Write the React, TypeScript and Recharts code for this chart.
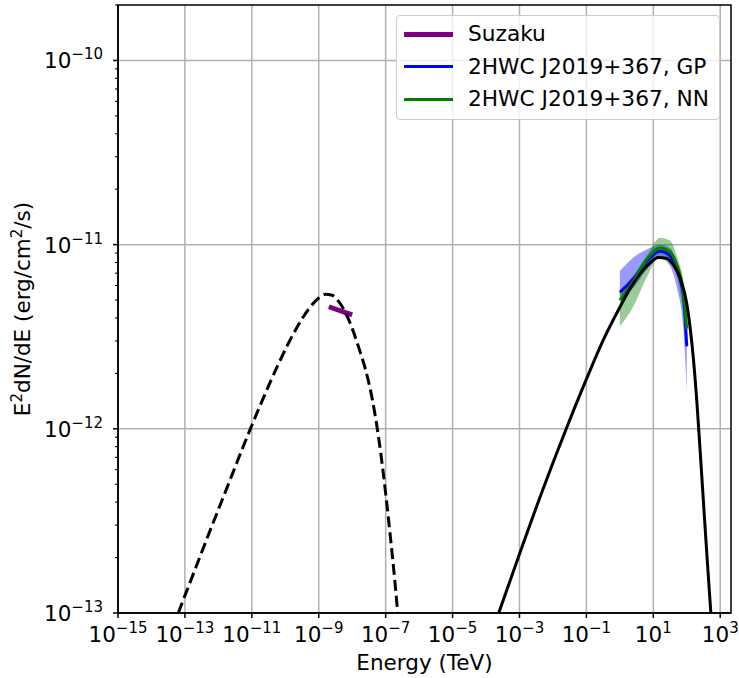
import React from 'react';
import {
  ComposedChart,
  Line,
  Area,
  XAxis,
  YAxis,
  CartesianGrid,
  ReferenceArea,
  Label
} from 'recharts';

const FONT = '"DejaVu Sans", "Liberation Sans", sans-serif';
const FS = 21.5; // main font size
const FS_SUP = 15; // exponent font size

// axis ranges (TeV, erg/cm^2/s)
const X_MIN = 1e-15;
const X_MAX = 2.1e3;
const Y_MIN = 1e-13;
const Y_MAX = 2.0e-10;

const xTicks = [1e-15, 1e-13, 1e-11, 1e-9, 1e-7, 1e-5, 1e-3, 1e-1, 1e1, 1e3];
const yMajor = [1e-13, 1e-12, 1e-11, 1e-10];
const yMantissa = [1, 2, 3, 4, 5, 6, 7, 8, 9];

// synchrotron model (dashed)
const syncEnergy = [6.31e-14, 2.0e-13, 6.31e-13, 2.0e-12, 6.31e-12, 2.0e-11, 6.31e-11, 2.0e-10, 5.01e-10, 1e-9, 1.58e-9, 2.51e-9, 3.98e-9, 6.31e-9, 1e-8, 1.58e-8, 2.51e-8, 3.98e-8, 6.31e-8, 1e-7, 1.41e-7, 1.91e-7, 2.29e-7];
const syncFlux = [1.0e-13, 1.72e-13, 2.95e-13, 5.01e-13, 8.51e-13, 1.41e-12, 2.26e-12, 3.43e-12, 4.47e-12, 5.13e-12, 5.37e-12, 5.31e-12, 4.9e-12, 4.27e-12, 3.51e-12, 2.75e-12, 2.09e-12, 1.45e-12, 8.7e-13, 4.47e-13, 2.51e-13, 1.45e-13, 1.0e-13];

// inverse Compton model (solid black)
const icEnergy = [2.4e-4, 1e-3, 5e-3, 2.5e-2, 0.1, 0.316, 1.0, 2.0, 4.0, 7.9, 14.1, 25, 40, 63, 100, 126, 158, 200, 251, 316, 398, 525];
const icFlux = [1.0e-13, 2.09e-13, 4.68e-13, 1.0e-12, 1.86e-12, 3.02e-12, 4.57e-12, 5.75e-12, 6.92e-12, 7.94e-12, 8.51e-12, 8.41e-12, 7.76e-12, 6.61e-12, 4.79e-12, 3.55e-12, 2.4e-12, 1.41e-12, 7.6e-13, 3.98e-13, 2.09e-13, 1.0e-13];

// Suzaku
const suzakuEnergy = [2e-9, 1e-8];
const suzakuFlux = [4.6e-12, 4.15e-12];

// HAWC spectra
const hawcEnergy = [1, 2.5, 6.3, 16, 32, 50, 79, 100];
const gpFlux = [5.5e-12, 6.5e-12, 8.1e-12, 9.2e-12, 8.7e-12, 7.3e-12, 5.3e-12, 2.8e-12];
const gpLow = [5.25e-12, 5.8e-12, 7.3e-12, 8.5e-12, 7.6e-12, 5.9e-12, 3.5e-12, 1.6e-12];
const gpHigh = [7.2e-12, 8.5e-12, 9.4e-12, 1.0e-11, 9.6e-12, 7.9e-12, 5.9e-12, 3.8e-12];
const nnFlux = [5.0e-12, 6.3e-12, 8.3e-12, 9.6e-12, 9.1e-12, 7.8e-12, 5.5e-12, 3.5e-12];
const nnLow = [3.6e-12, 4.6e-12, 6.6e-12, 8.7e-12, 7.9e-12, 6.8e-12, 4.3e-12, 3.2e-12];
const nnHigh = [5.6e-12, 6.8e-12, 8.7e-12, 1.09e-11, 1.05e-11, 8.7e-12, 6.3e-12, 4.5e-12];

const legendItems = [
  { name: 'Suzaku', color: '#800080', width: 5 },
  { name: '2HWC J2019+367, GP', color: '#0000ff', width: 3 },
  { name: '2HWC J2019+367, NN', color: '#008000', width: 3 }
];

const zip = (e: number[], f: number[]) => e.map((v, i) => ({ e: v, f: f[i] }));
const band = (e: number[], lo: number[], hi: number[]) => e.map((v, i) => ({ e: v, band: [lo[i], hi[i]] }));

const syncData = zip(syncEnergy, syncFlux);
const icData = zip(icEnergy, icFlux);
const suzakuData = zip(suzakuEnergy, suzakuFlux);
const gpData = zip(hawcEnergy, gpFlux);
const nnData = zip(hawcEnergy, nnFlux);
const gpBand = band(hawcEnergy, gpLow, gpHigh);
const nnBand = band(hawcEnergy, nnLow, nnHigh);

const yTicks = yMajor.flatMap(d => yMantissa.map(m => m * d));

const expText = (v: number) => {
  const p = Math.round(Math.log10(v));
  return p < 0 ? '\u2212' + -p : String(p);
};

const XTick = (props: any) => {
  const { x, y, payload } = props;
  return (
    <text x={x} y={y + 22} textAnchor="middle" fontFamily={FONT} fontSize={FS} fill="#000">
      <tspan>10</tspan>
      <tspan dy={-9} fontSize={FS_SUP}>{expText(payload.value)}</tspan>
    </text>
  );
};

const YTick = (props: any) => {
  const { x, y, payload } = props;
  const lg = Math.log10(payload.value);
  const major = Math.abs(lg - Math.round(lg)) < 1e-6;
  return (
    <g>
      <line x1={x - (major ? 5 : 3)} x2={x} y1={y} y2={y} stroke="#000" strokeWidth={major ? 1.5 : 1.1} />
      {major && (
        <text x={x - 15} y={y + 8} textAnchor="end" fontFamily={FONT} fontSize={FS} fill="#000">
          <tspan>10</tspan>
          <tspan dy={-9} fontSize={FS_SUP}>{expText(payload.value)}</tspan>
        </text>
      )}
    </g>
  );
};

const Legendbox = () => (
  <div
    style={{
      position: 'absolute',
      left: 396,
      top: 15,
      width: 322,
      height: 103,
      border: '1px solid #cccccc',
      borderRadius: 4,
      background: 'rgba(255,255,255,0.8)',
      fontFamily: FONT,
      fontSize: 21.7,
      color: '#000'
    }}
  >
    {legendItems.map((it, i) => (
      <div key={it.name} style={{ position: 'absolute', left: 0, top: 18 + i * 32.5, width: 322 }}>
        <div
          style={{
            position: 'absolute',
            left: 7,
            width: 49,
            top: -it.width / 2,
            height: it.width,
            background: it.color
          }}
        />
        <div style={{ position: 'absolute', left: 71, top: -13, lineHeight: '26px', whiteSpace: 'nowrap' }}>
          {it.name}
        </div>
      </div>
    ))}
  </div>
);

export default function App() {
  return (
    <div style={{ position: 'absolute', left: 0, top: 0, width: 739, height: 678, background: '#fff' }}>
      <ComposedChart width={739} height={678} margin={{ top: 5, right: 8, bottom: 0, left: 0 }}>
        <CartesianGrid
          stroke="#b0b0b0"
          strokeWidth={1.5}
          horizontalValues={yMajor}
          verticalValues={xTicks}
        />
        <XAxis
          dataKey="e"
          type="number"
          scale="log"
          domain={[X_MIN, X_MAX]}
          allowDataOverflow
          ticks={xTicks}
          interval={0}
          height={65}
          tickSize={5}
          tickMargin={2}
          tick={<XTick />}
          axisLine={{ stroke: '#000', strokeWidth: 1.5 }}
          tickLine={{ stroke: '#000', strokeWidth: 1.5 }}
        >
          <Label
            content={() => (
              <text x={424.5} y={670} textAnchor="middle" fontFamily={FONT} fontSize={FS} fill="#000">
                Energy (TeV)
              </text>
            )}
          />
        </XAxis>
        <YAxis
          type="number"
          scale="log"
          domain={[Y_MIN, Y_MAX]}
          allowDataOverflow
          ticks={yTicks}
          interval={0}
          width={118}
          tickSize={0}
          tickMargin={0}
          tickLine={false}
          tick={<YTick />}
          axisLine={{ stroke: '#000', strokeWidth: 1.5 }}
        >
          <Label
            content={() => (
              <text
                transform="translate(30,309) rotate(-90)"
                textAnchor="middle"
                fontFamily={FONT}
                fontSize={FS}
                fill="#000"
              >
                <tspan>E</tspan>
                <tspan dy={-8} fontSize={FS_SUP}>2</tspan>
                <tspan dy={8}>dN/dE (erg/cm</tspan>
                <tspan dy={-8} fontSize={FS_SUP}>2</tspan>
                <tspan dy={8}>/s)</tspan>
              </text>
            )}
          />
        </YAxis>

        <Area data={gpBand} dataKey="band" type="monotone" stroke="none" fill="#0000ff" fillOpacity={0.4} isAnimationActive={false} />
        <Area data={nnBand} dataKey="band" type="monotone" stroke="none" fill="#008000" fillOpacity={0.4} isAnimationActive={false} />
        <Line data={gpData} dataKey="f" type="monotone" stroke="#0000ff" strokeWidth={3} dot={false} isAnimationActive={false} />
        <Line data={nnData} dataKey="f" type="monotone" stroke="#008000" strokeWidth={3} dot={false} isAnimationActive={false} />
        <Line data={icData} dataKey="f" type="monotone" stroke="#000" strokeWidth={3} dot={false} isAnimationActive={false} />
        <Line data={suzakuData} dataKey="f" type="linear" stroke="#800080" strokeWidth={5} dot={false} isAnimationActive={false} />
        <Line data={syncData} dataKey="f" type="monotone" stroke="#000" strokeWidth={3} strokeDasharray="11 5" dot={false} isAnimationActive={false} />

        <ReferenceArea x1={X_MIN} x2={X_MAX} y1={Y_MIN} y2={Y_MAX} fill="none" stroke="#000" strokeWidth={1.5} ifOverflow="extendDomain" />
      </ComposedChart>
      <Legendbox />
    </div>
  );
}
